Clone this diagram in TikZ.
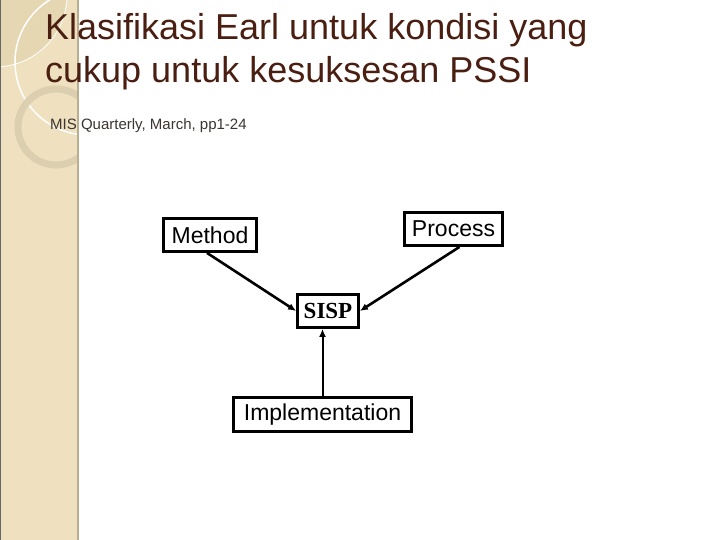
\documentclass[tikz,border=0pt]{standalone}
\usepackage{fontspec}
\setmainfont{Liberation Sans}
\newfontfamily\serifbold{Liberation Serif}
\usetikzlibrary{arrows.meta}
\definecolor{titlebrown}{HTML}{4A1F12}
\definecolor{subgray}{HTML}{3B3430}
\definecolor{bandtan}{HTML}{EFE1BF}
\definecolor{cornertan}{HTML}{E6D7B3}
\definecolor{bandedge}{HTML}{B9AE92}
\definecolor{ringtan}{HTML}{DCCFB0}
\tikzset{>={Latex[length=8pt,width=7pt]}}
\tikzstyle{box}=[draw, line width=2.8pt, inner sep=0pt, font=\fontsize{23}{27}\selectfont]
\newcommand{\boxnode}{\node[box]}

\begin{document}
\begin{tikzpicture}[x=1pt, y=-1pt]
\useasboundingbox (0,0) rectangle (720,540);
% side band
\fill[bandtan] (0,0) rectangle (78,540);
\begin{scope}
\clip (0,0) rectangle (78,540);
\fill[cornertan] (-5,-5) circle (72);
\draw[white, line width=.8pt] (-5,-5) circle (72);
\draw[white, line width=1.5pt] (88,62) circle (73);
\draw[ringtan, line width=7pt] (56,127) circle (38);
\end{scope}
\draw[bandedge, line width=2pt] (78,0) -- (78,540);
\draw[black!60, line width=1pt] (0.5,0) -- (0.5,540);
% title
\node[anchor=north west, inner sep=0pt, text=titlebrown, align=left,
  font=\fontsize{36}{42.5}\selectfont] (title) at (45,13.5)
  {Klasifikasi Earl untuk kondisi yang\\cukup untuk kesuksesan PSSI};
\node[anchor=base west, inner sep=0pt, text=subgray,
  font=\fontsize{15}{18}\selectfont] (source) at (50,129.5) {MIS Quarterly, March, pp1-24};
% diagram
\boxnode[minimum width=93, minimum height=33] (method) at (210,235) {Method};
\boxnode[minimum width=98, minimum height=33] (process) at (453.5,229) {Process};
\boxnode[minimum width=61, minimum height=33, font=\serifbold\bfseries\fontsize{23}{27}\selectfont] (sisp) at (328,311) {SISP};
\boxnode[minimum width=178, minimum height=34] (impl) at (322.5,414.5) {Implementation};
\draw [->, line width=2.6pt] ([xshift=-3pt]method.south) -- (sisp.west);
\draw [->, line width=2.6pt] ([xshift=6pt]process.south) -- (sisp.east);
\draw [->, line width=2pt] (impl.north) -- (impl.north |- sisp.south);
\end{tikzpicture}
\end{document}
